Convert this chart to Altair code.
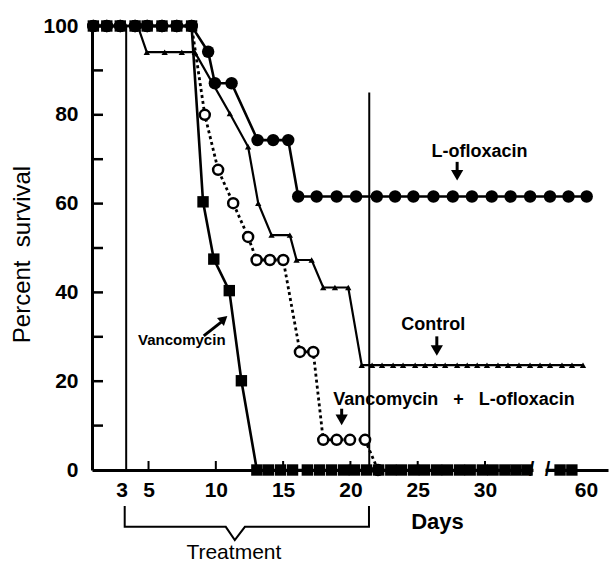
import altair as alt
import pandas as pd

FONT = "Liberation Sans"
NB = "\u00a0"

# ---------------- data ----------------
# Vancomycin (filled squares)
vanco_day = [0.9, 1.9, 2.9, 4.0, 4.9, 6.0, 7.1, 8.2, 9.05, 9.85, 11.0, 11.9,
             13.05, 13.9, 14.8, 15.7, 16.8, 17.7, 18.6, 19.5, 20.3, 21.2, 22.1, 23.0,
             23.8, 24.7, 25.5, 26.4, 27.2, 28.1, 28.9, 29.8, 32.4, 35.9, 39.2, 42.5,
             52.3, 55.8]
vanco_pct = [100, 100, 100, 100, 100, 100, 100, 100, 60.4, 47.5, 40.4, 20.1,
             0, 0, 0, 0, 0, 0, 0, 0, 0, 0, 0, 0,
             0, 0, 0, 0, 0, 0, 0, 0, 0, 0, 0, 0,
             0, 0]

# L-ofloxacin (filled circles)
oflox_day = [0.9, 1.9, 2.9, 4.0, 4.9, 6.0, 7.1, 8.2, 9.43, 9.93, 11.17, 13.1,
             14.26, 15.38, 16.12, 17.49, 18.98, 20.42, 21.96, 23.32, 24.68, 26.17,
             27.61, 29.03, 32.0, 37.6, 43.4, 49.3, 54.8, 60.2]
oflox_pct = [100, 100, 100, 100, 100, 100, 100, 100, 94.2, 87.1, 87.1, 74.3,
             74.3, 74.3, 61.6, 61.6, 61.6, 61.6, 61.6, 61.6, 61.6, 61.6,
             61.6, 61.6, 61.6, 61.6, 61.6, 61.6, 61.6, 61.6]

# Control (small triangles)
control_day = [0.9, 1.9, 2.9, 4.2, 4.87, 6.2, 7.47, 8.44, 11.04, 12.4, 13.15, 14.14,
               15.5, 16.0, 17.12, 17.98, 18.85, 19.84, 20.84, 21.61, 22.35, 23.17,
               23.91, 24.81, 25.55, 26.29, 27.04, 27.93, 28.68, 29.42, 30.59, 33.86,
               36.83, 40.1, 43.37, 46.34, 49.31, 52.87, 55.84, 59.11]
control_pct = [100, 100, 100, 100, 94.1, 94.1, 94.1, 94.1, 80.3, 72.8, 60.1, 52.9,
               52.9, 47.3, 47.3, 41.1, 41.1, 41.1, 23.6, 23.6, 23.6, 23.6,
               23.6, 23.6, 23.6, 23.6, 23.6, 23.6, 23.6, 23.6, 23.6, 23.6,
               23.6, 23.6, 23.6, 23.6, 23.6, 23.6, 23.6, 23.6]

# Vancomycin + L-ofloxacin (open circles, dotted line)
combo_day = [0.9, 1.9, 2.9, 4.0, 4.9, 6.0, 7.1, 8.2, 9.18, 10.17, 11.29, 12.4,
             13.03, 14.02, 15.01, 16.25, 17.24, 17.98, 18.98, 19.97, 21.09, 22.05]
combo_pct = [100, 100, 100, 100, 100, 100, 100, 100, 80.0, 67.6, 60.1, 52.5,
             47.3, 47.3, 47.3, 26.6, 26.6, 6.8, 6.8, 6.8, 6.8, 0]

tick_days = [3, 5, 10, 15, 20, 25, 30, 60]
minor_x_ticks = [5, 10, 15, 20, 25, 30]
y_label_vals = [0, 20, 40, 60, 80, 100]
y_tick_vals = [10, 20, 30, 40, 50, 60, 70, 80, 90]

treat_day = [3.34, 21.4]
treat_top = [100, 85]

# annotations (text, day, pct)
ann_text = ["L-ofloxacin", "Control",
            "Vancomycin" + NB * 3 + "+" + NB * 3 + "L-ofloxacin"]
ann_day = [29.6, 26.15, 27.7]
ann_pct = [71.6, 32.7, 15.8]
arrow_day = [27.93, 26.42, 19.35]
arrow_top = [69.4, 30.1, 13.8]
arrow_bot = [66.8, 27.4, 11.6]
arrow_head = [66.4, 26.9, 11.3]

# --------------- helpers ---------------
def frame(days, pcts):
    return pd.DataFrame({"day": days, "pct": pcts, "order": list(range(len(days)))})

W, H = 516, 444

x_scale = alt.Scale(domain=[0.8, 30, 60, 66.5], range=[0, 393, 494, 516], nice=False, zero=False)
y_scale = alt.Scale(domain=[0, 100], nice=False, zero=False)

x_axis = alt.Axis(values=tick_days, format="d", ticks=False, grid=False,
                  domainWidth=3, domainColor="black", labelColor="black",
                  labelFont=FONT, labelFontSize=21, labelFontWeight="bold",
                  labelPadding=9, labelOverlap=False, labelFlush=False,
                  title="Days", titleFont=FONT, titleFontSize=22, titleFontWeight="bold",
                  titleColor="black", titleX=345, titleY=51, titleBaseline="middle")
y_axis = alt.Axis(values=y_label_vals, format="d", ticks=False, grid=False,
                  domainWidth=3, domainColor="black", labelColor="black",
                  labelFont=FONT, labelFontSize=21, labelFontWeight="bold",
                  labelPadding=14, labelOverlap=False, labelFlush=False,
                  title="Percent" + NB + NB + "survival", titleFont=FONT, titleFontSize=24,
                  titleFontWeight="normal", titleColor="black", titleX=-70, titleY=228,
                  titleBaseline="middle")

X = alt.X("day:Q", scale=x_scale, axis=x_axis)
Y = alt.Y("pct:Q", scale=y_scale, axis=y_axis)

layers = []

# treatment vertical lines
tl = pd.DataFrame({"day": treat_day, "pct": [0, 0], "top": treat_top})
layers.append(alt.Chart(tl).mark_rule(color="black", strokeWidth=2).encode(
    x=X, y=Y, y2="top:Q"))

# inward y ticks
yt = pd.DataFrame({"pct": y_tick_vals})
layers.append(alt.Chart(yt).mark_rule(color="black", strokeWidth=2.5).encode(
    y=Y, x=alt.value(0), x2=alt.value(11)))

# inward x ticks
xt = pd.DataFrame({"day": minor_x_ticks})
layers.append(alt.Chart(xt).mark_rule(color="black", strokeWidth=2).encode(
    x=X, y=alt.value(H), y2=alt.value(H - 9)))

# control
cd = frame(control_day, control_pct)
layers.append(alt.Chart(cd).mark_line(color="black", strokeWidth=2.2).encode(
    x=X, y=Y, order="order:Q"))
layers.append(alt.Chart(cd).mark_point(shape="triangle-up", filled=True, color="black",
                                       size=40, opacity=1).encode(x=X, y=Y))

# combination
kd = frame(combo_day, combo_pct)
layers.append(alt.Chart(kd).mark_line(color="black", strokeWidth=2.8,
                                      strokeDash=[3, 3]).encode(
    x=X, y=Y, order="order:Q"))
layers.append(alt.Chart(kd).mark_point(shape="circle", filled=True, fill="white",
                                       stroke="black", strokeWidth=2.5, size=100,
                                       opacity=1).encode(x=X, y=Y))

# L-ofloxacin
od = frame(oflox_day, oflox_pct)
layers.append(alt.Chart(od).mark_line(color="black", strokeWidth=2.6).encode(
    x=X, y=Y, order="order:Q"))
layers.append(alt.Chart(od).mark_point(shape="circle", filled=True, color="black",
                                       size=155, opacity=1).encode(x=X, y=Y))

# Vancomycin
vd = frame(vanco_day, vanco_pct)
layers.append(alt.Chart(vd).mark_line(color="black", strokeWidth=2.6).encode(
    x=X, y=Y, order="order:Q"))
layers.append(alt.Chart(vd).mark_point(shape="square", filled=True, color="black",
                                       size=130, opacity=1).encode(x=X, y=Y))

# axis break
br = pd.DataFrame({"day": [44.4], "day2": [48.0]})
layers.append(alt.Chart(br).mark_rect(color="white").encode(
    x=X, x2="day2:Q", y=alt.value(H - 6), y2=alt.value(H + 6)))
sl = pd.DataFrame({"day": [43.8, 48.6], "pct": [0, 0], "t": ["/", "/"]})
layers.append(alt.Chart(sl).mark_text(font=FONT, fontSize=20, fontWeight="bold",
                                      color="black", baseline="middle").encode(
    x=X, y=Y, text="t:N"))

# annotations
an = pd.DataFrame({"day": ann_day, "pct": ann_pct, "t": ann_text})
layers.append(alt.Chart(an).mark_text(font=FONT, fontSize=18, fontWeight="bold",
                                      color="black", baseline="middle").encode(
    x=X, y=Y, text="t:N"))
ar = pd.DataFrame({"day": arrow_day, "pct": arrow_top, "bot": arrow_bot, "head": arrow_head})
layers.append(alt.Chart(ar).mark_rule(color="black", strokeWidth=3).encode(
    x=X, y=Y, y2="bot:Q"))
layers.append(alt.Chart(ar).mark_point(shape="triangle-down", filled=True, color="black",
                                       size=150, opacity=1).encode(
    x=X, y=alt.Y("head:Q", scale=y_scale, axis=y_axis)))

# Vancomycin label and slanted arrow
vl = pd.DataFrame({"day": [7.47], "pct": [29.3], "t": ["Vancomycin"]})
layers.append(alt.Chart(vl).mark_text(font=FONT, fontSize=15, fontWeight="bold",
                                      color="black", baseline="middle").encode(
    x=X, y=Y, text="t:N"))
va = pd.DataFrame({"day": [9.1], "pct": [30.2], "day2": [10.4], "pct2": [33.3]})
layers.append(alt.Chart(va).mark_rule(color="black", strokeWidth=3).encode(
    x=X, y=Y, x2="day2:Q", y2="pct2:Q"))
vh = pd.DataFrame({"day": [10.6], "pct": [34.0]})
layers.append(alt.Chart(vh).mark_point(shape="triangle-up", filled=True, color="black",
                                       size=110, opacity=1, angle=49).encode(x=X, y=Y))

# treatment bracket
bk = pd.DataFrame({
    "day": [3.23, 3.23, 10.74, 11.41, 12.16, 21.38, 21.38],
    "pct": [-8.1, -12.8, -12.8, -15.8, -12.8, -12.8, -8.1],
    "order": [0, 1, 2, 3, 4, 5, 6]})
layers.append(alt.Chart(bk).mark_line(color="black", strokeWidth=2).encode(
    x=X, y=Y, order="order:Q"))
tt = pd.DataFrame({"day": [11.34], "pct": [-18.7], "t": ["Treatment"]})
layers.append(alt.Chart(tt).mark_text(font=FONT, fontSize=21, fontWeight="normal",
                                      color="black", baseline="middle").encode(
    x=X, y=Y, text="t:N"))

chart = alt.layer(*layers).properties(
    width=W, height=H,
    autosize=alt.AutoSizeParams(type="none"),
    padding={"left": 92, "top": 26, "right": 2, "bottom": 97},
    background="white",
).configure_view(stroke=None)

chart.save("out.html", embed_options={"renderer": "svg", "actions": False})
